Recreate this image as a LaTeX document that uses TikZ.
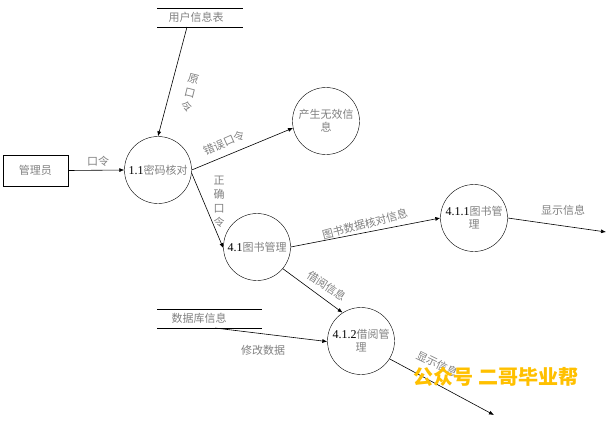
\documentclass[tikz,border=0pt]{standalone}
\usepackage{fontspec}
\setmainfont{Liberation Serif}
\newfontfamily\cjk{Noto Sans CJK SC}
\usetikzlibrary{arrows.meta}
\definecolor{txtgray}{RGB}{128,128,128}
\definecolor{wmgold}{RGB}{255,192,0}
\newcommand{\pnum}[1]{{\rmfamily\fontsize{12}{13}\selectfont\color{black}#1}}
\tikzset{
  proc/.style={draw,circle,minimum size=67pt,inner sep=0pt,align=center,
    font=\fontsize{11}{13}\cjk\color{txtgray},text=txtgray},
  lbl/.style={font=\fontsize{11}{12.5}\cjk,text=txtgray,inner sep=0pt,align=center},
  flow/.style={-{Latex[length=5pt,width=4pt]},line width=0.6pt},
  storeline/.style={line width=0.6pt}
}
\begin{document}
\begin{tikzpicture}[x=1pt,y=-1pt]
\useasboundingbox (0,0) rectangle (613,434);
% external entity
\node[draw,line width=0.6pt,minimum width=65pt,minimum height=31pt,font=\fontsize{11}{12}\cjk,text=txtgray] (adm) at (35.5,170.5) {管理员};
% data stores
\draw[storeline] (157,8) -- (243,8);
\draw[storeline] (157,27) -- (243,27);
\node[lbl] (st1) at (196,17.5) {用户信息表};
\coordinate (st1out) at (187,27);
\draw[storeline] (157,309) -- (262,309);
\draw[storeline] (157,328) -- (262,328);
\node[lbl] (st2) at (199,318.5) {数据库信息};
\coordinate (st2out) at (215,328);
% processes
\node[proc] (c11) at (158,170) {\pnum{1.1}密码核对};
\node[proc] (cinv) at (326,121) {产生无效信\\息};
\node[proc] (c41) at (257,247) {\pnum{4.1}图书管理};
\node[proc] (c411) at (474,218) {\pnum{4.1.1}图书管\\理};
\node[proc] (c412) at (361,341) {\pnum{4.1.2}借阅管\\理};
% free ends
\coordinate (out1) at (606,232);
\coordinate (out2) at (494,415);
% flows
\draw[flow] (st1out) -- (c11.north);
\draw[flow] (adm.east) -- (c11.west);
\draw[flow] (c11.east) -- (cinv.192);
\draw[flow] (c11.-5) -- (c41.182);
\draw[flow] (c41.east) -- (c411.west);
\draw[flow] (c411.east) -- (out1);
\draw[flow] (c41.-40) -- (c412.123);
\draw[flow] (st2out) -- (c412.181);
\draw[flow] (c412.-32) -- (out2);
% labels
\node[lbl,rotate=-14] (l1) at (190,93) {原\\[2pt]口\\[2pt]令};
\node[lbl] (l2) at (98,161) {口令};
\node[lbl,rotate=24] (l3) at (224,143) {错误口令};
\node[lbl] (l4) at (219,202) {正\\[1.5pt]确\\[1.5pt]口\\[1.5pt]令};
\node[lbl,rotate=15] (l5) at (365,224) {图书数据核对信息};
\node[lbl] (l6) at (563,210) {显示信息};
\node[lbl,rotate=-33] (l7) at (327,286) {借阅信息};
\node[lbl] (l8) at (263,350) {修改数据};
\node[lbl,rotate=-26] (l9) at (437,364) {显示信息};
% watermark
\node[font=\fontsize{20}{22}\cjk\bfseries,text=wmgold,inner sep=0pt] (wm) at (496,377) {公众号 二哥毕业帮};
\end{tikzpicture}
\end{document}
